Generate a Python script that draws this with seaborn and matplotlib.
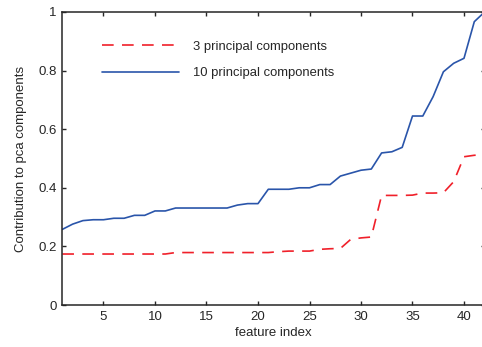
import matplotlib
matplotlib.use("Agg")
import matplotlib.pyplot as plt
import seaborn as sns
import pandas as pd
import numpy as np

feature_index = list(range(1, 43))
pc3 = [0.174, 0.174, 0.174, 0.174, 0.174, 0.174, 0.174, 0.174, 0.174, 0.174,
       0.174, 0.179, 0.179, 0.179, 0.179, 0.179, 0.179, 0.179, 0.179, 0.179,
       0.179, 0.182, 0.184, 0.184, 0.184, 0.190, 0.192, 0.193, 0.224, 0.229,
       0.232, 0.374, 0.374, 0.374, 0.375, 0.382, 0.382, 0.383, 0.421, 0.506,
       0.511, 0.513]
pc10 = [0.258, 0.276, 0.288, 0.291, 0.291, 0.296, 0.296, 0.306, 0.306, 0.321,
        0.321, 0.331, 0.331, 0.331, 0.331, 0.331, 0.331, 0.341, 0.346, 0.346,
        0.395, 0.395, 0.395, 0.400, 0.400, 0.411, 0.411, 0.440, 0.450, 0.460,
        0.464, 0.519, 0.523, 0.538, 0.645, 0.645, 0.711, 0.796, 0.825, 0.842,
        0.967, 1.000]
labels = ["3 principal components", "10 principal components"]
xticks = [5, 10, 15, 20, 25, 30, 35, 40]
yticks = [0, 0.2, 0.4, 0.6, 0.8, 1]
yticklabels = ["0", "0.2", "0.4", "0.6", "0.8", "1"]

sns.set_style("ticks")
plt.rcParams['font.family'] = ['Liberation Sans', 'DejaVu Sans']

df = pd.DataFrame({
    "feature index": feature_index * 2,
    "value": pc3 + pc10,
    "series": [labels[0]] * len(pc3) + [labels[1]] * len(pc10),
})

fig = plt.figure(figsize=(4.82, 3.47), dpi=100)
# left 62.3px, right 484.6px, top 12px, bottom 305px
ax = fig.add_axes([62.3 / 482, 1 - 305 / 347, (484.6 - 62.3) / 482, (305 - 12) / 347])

sns.lineplot(data=df, x="feature index", y="value", hue="series", style="series",
             palette={labels[0]: "#F0202A", labels[1]: "#2A55AA"},
             dashes={labels[0]: (7, 5), labels[1]: ""},
             linewidth=1.2, ax=ax, legend=True)

ax.set_xlim(1, 42)
ax.set_ylim(0, 1)
ax.set_xticks(xticks)
ax.set_yticks(yticks)
ax.set_yticklabels(yticklabels)
ax.tick_params(direction="in", length=3, width=1, top=True, right=True,
               labelsize=9.5, colors="#262626", pad=4)
for s in ax.spines.values():
    s.set_visible(True)
    s.set_linewidth(1.1)
    s.set_color("#262626")
ax.set_xlabel("feature index", fontsize=9.5, color="#262626", labelpad=3)
ax.set_ylabel("Contribution to pca components", fontsize=9.5, color="#262626", labelpad=8)

leg = ax.legend(loc="upper left", bbox_to_anchor=(0.093, 0.902), frameon=False,
                fontsize=9.4, handlelength=5.9, handletextpad=1.12,
                labelspacing=1.1, borderpad=0, borderaxespad=0)

fig.savefig("out.png", dpi=100)
